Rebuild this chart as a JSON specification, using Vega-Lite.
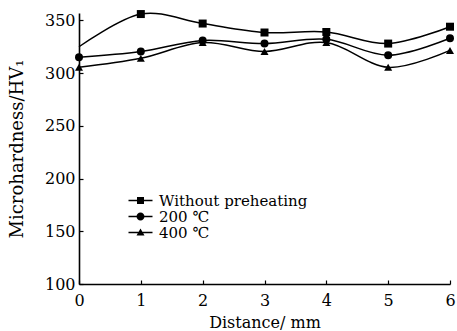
{
  "$schema": "https://vega.github.io/schema/vega-lite/v6.json",
  "width": 371,
  "height": 271,
  "autosize": "none",
  "padding": {"left": 79, "top": 13, "right": 7, "bottom": 47},
  "background": "white",
  "config": {
    "view": {"stroke": null},
    "font": "DejaVu Serif",
    "axis": {
      "domainColor": "black",
      "domainWidth": 1.6,
      "tickColor": "black",
      "tickWidth": 1.2,
      "tickSize": -4,
      "grid": false,
      "labelColor": "black",
      "labelFont": "DejaVu Serif",
      "labelFontSize": 16,
      "titleFont": "DejaVu Serif",
      "titleFontSize": 16,
      "titleFontWeight": "normal",
      "titleColor": "black"
    }
  },
  "data": {
    "values": [
      {"series": "Without preheating", "distance": 0, "hv": 325},
      {"series": "Without preheating", "distance": 1, "hv": 356},
      {"series": "Without preheating", "distance": 2, "hv": 347},
      {"series": "Without preheating", "distance": 3, "hv": 338.5},
      {"series": "Without preheating", "distance": 4, "hv": 339},
      {"series": "Without preheating", "distance": 5, "hv": 328},
      {"series": "Without preheating", "distance": 6, "hv": 344},
      {"series": "200 ℃", "distance": 0, "hv": 315},
      {"series": "200 ℃", "distance": 1, "hv": 320.5},
      {"series": "200 ℃", "distance": 2, "hv": 331},
      {"series": "200 ℃", "distance": 3, "hv": 328},
      {"series": "200 ℃", "distance": 4, "hv": 332},
      {"series": "200 ℃", "distance": 5, "hv": 317},
      {"series": "200 ℃", "distance": 6, "hv": 333},
      {"series": "400 ℃", "distance": 0, "hv": 305.5},
      {"series": "400 ℃", "distance": 1, "hv": 314},
      {"series": "400 ℃", "distance": 2, "hv": 329},
      {"series": "400 ℃", "distance": 3, "hv": 320.5},
      {"series": "400 ℃", "distance": 4, "hv": 329},
      {"series": "400 ℃", "distance": 5, "hv": 305.5},
      {"series": "400 ℃", "distance": 6, "hv": 321.5}
    ]
  },
  "encoding": {
    "x": {
      "field": "distance", "type": "quantitative",
      "scale": {"domain": [0, 6], "nice": false},
      "axis": {"values": [0, 1, 2, 3, 4, 5, 6], "labelPadding": 12, "title": "Distance/ mm", "titlePadding": 6, "labelFlush": false}
    },
    "y": {
      "field": "hv", "type": "quantitative",
      "scale": {"domain": [100, 357], "nice": false, "zero": false},
      "axis": {"values": [100, 150, 200, 250, 300, 350], "labelPadding": 8, "title": "Microhardness/HV₁", "titleFontSize": 18, "titlePadding": 18}
    }
  },
  "layer": [
    {
      "mark": {"type": "line", "interpolate": "cardinal", "color": "black", "strokeWidth": 1.5},
      "encoding": {"detail": {"field": "series"}}
    },
    {
      "transform": [{"filter": "datum.series !== 'Without preheating' || datum.distance > 0"}],
      "mark": {"type": "point", "filled": true, "color": "black", "opacity": 1, "size": 64},
      "encoding": {
        "shape": {
          "field": "series", "type": "nominal",
          "scale": {"domain": ["Without preheating", "200 ℃", "400 ℃"], "range": ["square", "circle", "triangle-up"]},
          "legend": null
        }
      }
    },
    {
      "mark": {"type": "point", "filled": true, "color": "black", "opacity": 0, "size": 100},
      "encoding": {
        "shape": {
          "field": "series", "type": "nominal",
          "scale": {"domain": ["Without preheating", "200 ℃", "400 ℃"], "range": [
            "M-2.4,-0.15H2.4V0.15H-2.4Z M-0.7,-0.7H0.7V0.7H-0.7Z",
            "M-2.4,-0.15H2.4V0.15H-2.4Z M0.8,0A0.8,0.8,0,1,1,-0.8,0A0.8,0.8,0,1,1,0.8,0Z",
            "M-2.4,-0.15H2.4V0.15H-2.4Z M0,-0.8L0.8,0.6H-0.8Z"
          ]},
          "legend": {
            "title": null,
            "orient": "none",
            "legendX": 54,
            "legendY": 180,
            "padding": 0,
            "symbolSize": 100,
            "symbolFillColor": "black",
            "symbolStrokeWidth": 0,
            "symbolOpacity": 1,
            "labelFont": "DejaVu Serif",
            "labelFontSize": 15,
            "labelColor": "black",
            "labelOffset": 11,
            "rowPadding": 0
          }
        }
      }
    }
  ],
  "resolve": {"scale": {"shape": "independent"}, "legend": {"shape": "independent"}}
}
